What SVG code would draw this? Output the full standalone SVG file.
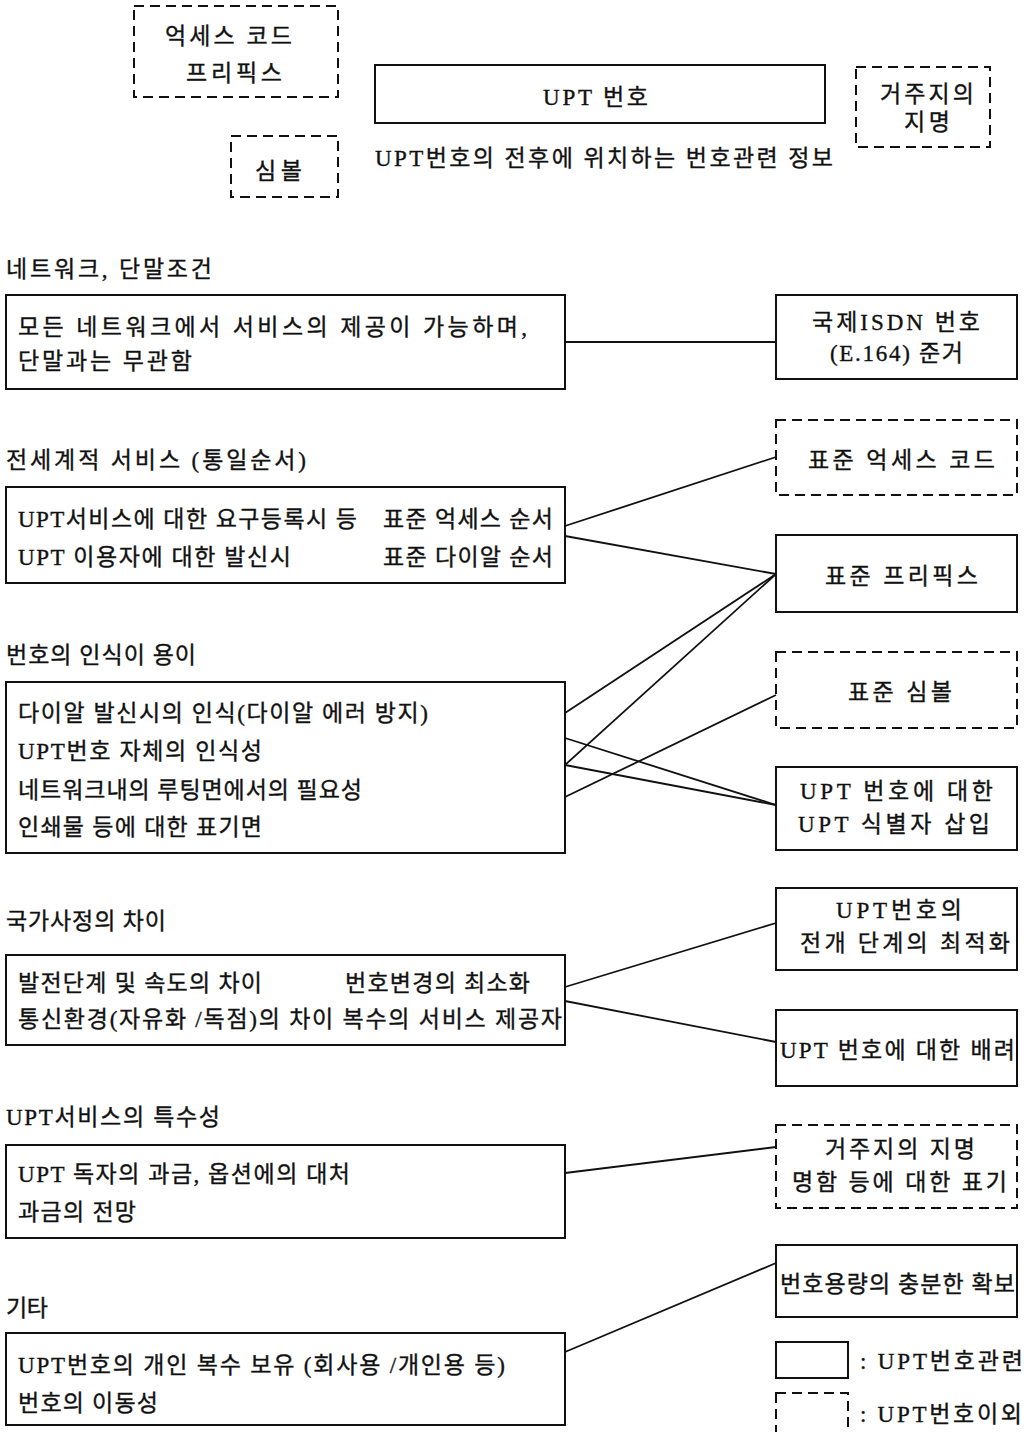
<svg xmlns="http://www.w3.org/2000/svg" width="1027" height="1432" viewBox="0 0 1027 1432">
<style>
.bx{fill:none;stroke:#111;stroke-width:2}
.ds{fill:none;stroke:#111;stroke-width:2;stroke-dasharray:10 6}
.t{font-family:"Liberation Serif","Noto Sans CJK KR",serif;font-size:23px;fill:#111;stroke:#111;stroke-width:0.35}
.c line{stroke:#111;stroke-width:1.8}
</style>
<rect width="1027" height="1432" fill="#fff"/>

<g id="top-access">
<rect class="ds" x="134" y="6" width="204" height="91"/>
<text class="t" x="165" y="44" textLength="127" lengthAdjust="spacing">억세스 코드</text>
<text class="t" x="186" y="81" textLength="96" lengthAdjust="spacing">프리픽스</text>
</g>
<g id="top-upt">
<rect class="bx" x="375" y="65" width="450" height="58"/>
<text class="t" x="543" y="105" textLength="105" lengthAdjust="spacing">UPT 번호</text>
</g>
<g id="top-residence">
<rect class="ds" x="856" y="67" width="134" height="80"/>
<text class="t" x="880" y="102" textLength="94" lengthAdjust="spacing">거주지의</text>
<text class="t" x="904" y="130" textLength="46" lengthAdjust="spacing">지명</text>
</g>
<g id="top-symbol">
<rect class="ds" x="231" y="136" width="107" height="61"/>
<text class="t" x="255" y="179" textLength="47" lengthAdjust="spacing">심볼</text>
</g>
<g id="top-caption">
<text class="t" x="375" y="166" textLength="458" lengthAdjust="spacing">UPT번호의 전후에 위치하는 번호관련 정보</text>
</g>

<g id="sec1">
<text class="t" x="6" y="277" textLength="206" lengthAdjust="spacing">네트워크, 단말조건</text>
<rect class="bx" x="6" y="295" width="559" height="94"/>
<text class="t" x="18" y="335" textLength="509" lengthAdjust="spacing">모든 네트워크에서 서비스의 제공이 가능하며,</text>
<text class="t" x="18" y="369" textLength="174" lengthAdjust="spacing">단말과는 무관함</text>
</g>
<g id="isdn">
<rect class="bx" x="776" y="295" width="241" height="84"/>
<text class="t" x="812" y="330" textLength="168" lengthAdjust="spacing">국제ISDN 번호</text>
<text class="t" x="830" y="361" textLength="133" lengthAdjust="spacing">(E.164) 준거</text>
</g>

<g id="sec2">
<text class="t" x="6" y="468" textLength="300" lengthAdjust="spacing">전세계적 서비스 (통일순서)</text>
<rect class="bx" x="6" y="487" width="559" height="96"/>
<text class="t" x="18" y="527" textLength="339" lengthAdjust="spacing">UPT서비스에 대한 요구등록시 등</text>
<text class="t" x="383" y="527" textLength="170" lengthAdjust="spacing">표준 억세스 순서</text>
<text class="t" x="18" y="565" textLength="273" lengthAdjust="spacing">UPT 이용자에 대한 발신시</text>
<text class="t" x="383" y="565" textLength="170" lengthAdjust="spacing">표준 다이알 순서</text>
</g>
<g id="std-access">
<rect class="ds" x="776" y="420" width="241" height="75"/>
<text class="t" x="808" y="468" textLength="187" lengthAdjust="spacing">표준 억세스 코드</text>
</g>
<g id="std-prefix">
<rect class="bx" x="776" y="535" width="241" height="77"/>
<text class="t" x="825" y="584" textLength="153" lengthAdjust="spacing">표준 프리픽스</text>
</g>
<g id="std-symbol">
<rect class="ds" x="776" y="652" width="241" height="76"/>
<text class="t" x="848" y="700" textLength="104" lengthAdjust="spacing">표준 심볼</text>
</g>
<g id="upt-id">
<rect class="bx" x="776" y="767" width="241" height="83"/>
<text class="t" x="800" y="799" textLength="193" lengthAdjust="spacing">UPT 번호에 대한</text>
<text class="t" x="798" y="832" textLength="192" lengthAdjust="spacing">UPT 식별자 삽입</text>
</g>

<g id="sec3">
<text class="t" x="6" y="663" textLength="190" lengthAdjust="spacing">번호의 인식이 용이</text>
<rect class="bx" x="6" y="682" width="559" height="171"/>
<text class="t" x="18" y="721" textLength="410" lengthAdjust="spacing">다이알 발신시의 인식(다이알 에러 방지)</text>
<text class="t" x="18" y="759" textLength="244" lengthAdjust="spacing">UPT번호 자체의 인식성</text>
<text class="t" x="18" y="798" textLength="344" lengthAdjust="spacing">네트워크내의 루팅면에서의 필요성</text>
<text class="t" x="18" y="835" textLength="244" lengthAdjust="spacing">인쇄물 등에 대한 표기면</text>
</g>

<g id="sec4">
<text class="t" x="6" y="929" textLength="160" lengthAdjust="spacing">국가사정의 차이</text>
<rect class="bx" x="6" y="955" width="559" height="90"/>
<text class="t" x="18" y="991" textLength="244" lengthAdjust="spacing">발전단계 및 속도의 차이</text>
<text class="t" x="345" y="991" textLength="185" lengthAdjust="spacing">번호변경의 최소화</text>
<text class="t" x="18" y="1027" textLength="544" lengthAdjust="spacing">통신환경(자유화 /독점)의 차이 복수의 서비스 제공자</text>
</g>
<g id="deploy">
<rect class="bx" x="776" y="888" width="241" height="82"/>
<text class="t" x="836" y="918" textLength="126" lengthAdjust="spacing">UPT번호의</text>
<text class="t" x="800" y="951" textLength="210" lengthAdjust="spacing">전개 단계의 최적화</text>
</g>
<g id="consider">
<rect class="bx" x="776" y="1010" width="241" height="76"/>
<text class="t" x="780" y="1058" textLength="235" lengthAdjust="spacing">UPT 번호에 대한 배려</text>
</g>

<g id="sec5">
<text class="t" x="6" y="1125" textLength="214" lengthAdjust="spacing">UPT서비스의 특수성</text>
<rect class="bx" x="6" y="1145" width="559" height="93"/>
<text class="t" x="18" y="1182" textLength="332" lengthAdjust="spacing">UPT 독자의 과금, 옵션에의 대처</text>
<text class="t" x="18" y="1220" textLength="118" lengthAdjust="spacing">과금의 전망</text>
</g>
<g id="card">
<rect class="ds" x="776" y="1125" width="241" height="83"/>
<text class="t" x="825" y="1157" textLength="150" lengthAdjust="spacing">거주지의 지명</text>
<text class="t" x="792" y="1190" textLength="215" lengthAdjust="spacing">명함 등에 대한 표기</text>
</g>

<g id="sec6">
<text class="t" x="6" y="1316" textLength="42" lengthAdjust="spacing">기타</text>
<rect class="bx" x="6" y="1333" width="559" height="92"/>
<text class="t" x="18" y="1373" textLength="487" lengthAdjust="spacing">UPT번호의 개인 복수 보유 (회사용 /개인용 등)</text>
<text class="t" x="18" y="1411" textLength="140" lengthAdjust="spacing">번호의 이동성</text>
</g>
<g id="capacity">
<rect class="bx" x="776" y="1245" width="241" height="72"/>
<text class="t" x="780" y="1292" textLength="235" lengthAdjust="spacing">번호용량의 충분한 확보</text>
</g>

<g id="legend">
<rect class="bx" x="776" y="1342" width="72" height="36"/>
<text class="t" x="860" y="1369" textLength="163" lengthAdjust="spacing">: UPT번호관련</text>
<rect class="ds" x="776" y="1393" width="72" height="45"/>
<text class="t" x="860" y="1422" textLength="162" lengthAdjust="spacing">: UPT번호이외</text>
</g>

<g id="connectors" class="c">
<line x1="565" y1="342" x2="776" y2="342"/>
<line x1="565" y1="526" x2="776" y2="457"/>
<line x1="565" y1="536" x2="776" y2="574"/>
<line x1="565" y1="713" x2="776" y2="574"/>
<line x1="565" y1="765" x2="776" y2="574"/>
<line x1="565" y1="738" x2="776" y2="805"/>
<line x1="565" y1="765" x2="776" y2="805"/>
<line x1="565" y1="797" x2="776" y2="695"/>
<line x1="565" y1="987" x2="776" y2="923"/>
<line x1="565" y1="1001" x2="776" y2="1042"/>
<line x1="565" y1="1173" x2="776" y2="1147"/>
<line x1="565" y1="1352" x2="776" y2="1263"/>
</g>
</svg>
